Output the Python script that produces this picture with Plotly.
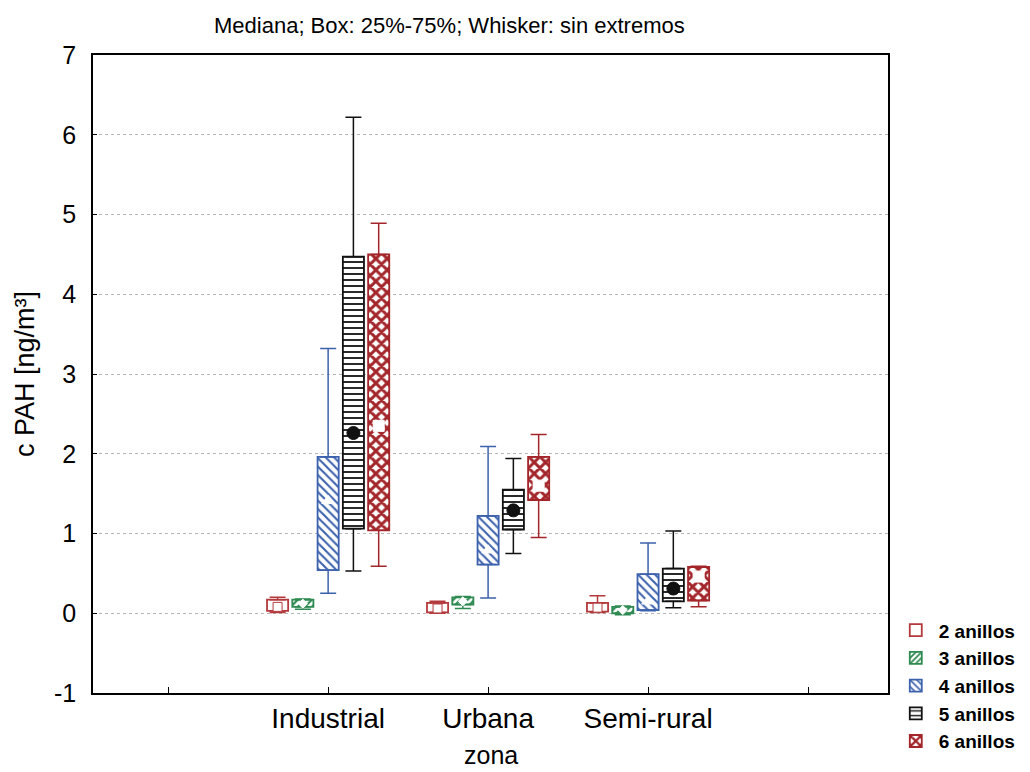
import plotly.graph_objects as go

# Zones on the x axis and ring-count groups
zonas = ["Industrial", "Urbana", "Semi-rural"]
grupos = ["2 anillos", "3 anillos", "4 anillos", "5 anillos", "6 anillos"]
y_ticks = [-1, 0, 1, 2, 3, 4, 5, 6, 7]

# Box statistics per group (rows) and zone (columns: Industrial, Urbana, Semi-rural), ng/m3
bigote_inf = [
    [0.01, 0.00, 0.01],
    [0.05, 0.06, -0.02],
    [0.25, 0.19, 0.03],
    [0.53, 0.75, 0.07],
    [0.59, 0.95, 0.08],
]
cuartil_25 = [
    [0.03, 0.01, 0.02],
    [0.08, 0.11, 0.00],
    [0.54, 0.61, 0.04],
    [1.06, 1.05, 0.15],
    [1.04, 1.42, 0.16],
]
mediana = [
    [0.08, 0.06, 0.07],
    [0.12, 0.15, 0.04],
    [1.41, 0.79, 0.15],
    [2.26, 1.29, 0.31],
    [2.35, 1.60, 0.46],
]
cuartil_75 = [
    [0.17, 0.13, 0.13],
    [0.17, 0.20, 0.08],
    [1.96, 1.22, 0.49],
    [4.47, 1.55, 0.56],
    [4.50, 1.96, 0.58],
]
bigote_sup = [
    [0.20, 0.15, 0.22],
    [0.18, 0.21, 0.09],
    [3.32, 2.09, 0.88],
    [6.22, 1.94, 1.03],
    [4.89, 2.24, 0.59],
]

# Styling for each group
colores = ["#b4393c", "#2f8a52", "#3d62ad", "#111111", "#a3262b"]
tramas = ["", "/", "\\", "-", "x"]
trama_tam = [6, 5, 6, 6, 8]
trama_sol = [0.3, 0.45, 0.35, 0.3, 0.6]
simbolos = ["square", "diamond", "triangle-up", "circle", "square"]
simb_tam = [9, 7, 11, 13, 11]
simb_color = ["white", "white", "white", "#111111", "white"]

paso = 0.158      # spacing between boxes inside a zone
ancho = 0.132     # box width

fig = go.Figure()

for g, nombre in enumerate(grupos):
    pos = [z + (g - 2) * paso for z in range(1, len(zonas) + 1)]
    q1 = cuartil_25[g]
    q3 = cuartil_75[g]
    lo = bigote_inf[g]
    hi = bigote_sup[g]
    col = colores[g]

    # upper whisker (from Q3)
    fig.add_trace(go.Scatter(
        x=pos, y=q3, mode="markers", showlegend=False, hoverinfo="skip",
        marker=dict(size=1, color="rgba(0,0,0,0)"),
        error_y=dict(type="data", symmetric=False,
                     array=[h - b for h, b in zip(hi, q3)],
                     arrayminus=[0] * len(q3),
                     color=col, thickness=1.5, width=8),
    ))
    # lower whisker (from Q1)
    fig.add_trace(go.Scatter(
        x=pos, y=q1, mode="markers", showlegend=False, hoverinfo="skip",
        marker=dict(size=1, color="rgba(0,0,0,0)"),
        error_y=dict(type="data", symmetric=False,
                     array=[0] * len(q1),
                     arrayminus=[b - l for b, l in zip(q1, lo)],
                     color=col, thickness=1.5, width=8),
    ))
    # box Q1..Q3
    fig.add_trace(go.Bar(
        x=pos, y=[b - a for a, b in zip(q1, q3)], base=q1, width=ancho,
        name=nombre, legendgroup=nombre,
        marker=dict(
            color="white",
            line=dict(color=col, width=1.8),
            pattern=dict(shape=tramas[g], fgcolor=col, bgcolor="white",
                         size=trama_tam[g], solidity=trama_sol[g],
                         fillmode="replace"),
        ),
    ))
    # median marker
    fig.add_trace(go.Scatter(
        x=pos, y=mediana[g], mode="markers", showlegend=False,
        legendgroup=nombre,
        marker=dict(symbol=simbolos[g], size=simb_tam[g], color=simb_color[g],
                    line=dict(color=col if g == 0 else simb_color[g], width=1)),
    ))

fig.update_layout(
    width=1030, height=772,
    margin=dict(l=93, r=142, t=55, b=79, autoexpand=False),
    paper_bgcolor="white", plot_bgcolor="white",
    barmode="overlay",
    font=dict(family="Arial, Liberation Sans, sans-serif", color="black"),
    showlegend=True,
    legend=dict(x=1.006, y=0.128, xanchor="left", yanchor="top",
                font=dict(size=19, weight="bold"), tracegroupgap=0,
                itemwidth=36, bgcolor="rgba(0,0,0,0)"),
    annotations=[
        dict(text="Mediana; Box: 25%-75%; Whisker: sin extremos",
             xref="paper", yref="paper", x=0.448, y=1.0, yshift=30,
             xanchor="center", yanchor="middle", showarrow=False,
             font=dict(size=22)),
        # x axis title
        dict(text="zona", xref="paper", yref="paper", x=0.5, y=-0.097,
             xanchor="center", yanchor="middle", showarrow=False,
             font=dict(size=25)),
    ],
)

fig.update_xaxes(
    range=[-0.47, 4.5],
    tickvals=[0, 1, 2, 3, 4],
    ticktext=["", zonas[0], zonas[1], zonas[2], ""],
    ticks="inside", ticklen=6, tickcolor="black",
    showline=True, linecolor="black", linewidth=1.5, mirror=True,
    showgrid=False, zeroline=False, automargin=False,
    tickfont=dict(size=28),
)
fig.update_yaxes(
    range=[-1, 7],
    tickvals=y_ticks, ticktext=[str(v) for v in y_ticks],
    ticks="inside", ticklen=4, tickcolor="black",
    showline=True, linecolor="black", linewidth=1.5, mirror=True,
    showgrid=True, gridcolor="#b5b5b5", griddash="dot", gridwidth=1,
    zeroline=False, automargin=False,
    tickfont=dict(size=25), ticklabelstandoff=10,
    title=dict(text="c PAH [ng/m³]", font=dict(size=27), standoff=12),
)

fig.write_html("out.html")
